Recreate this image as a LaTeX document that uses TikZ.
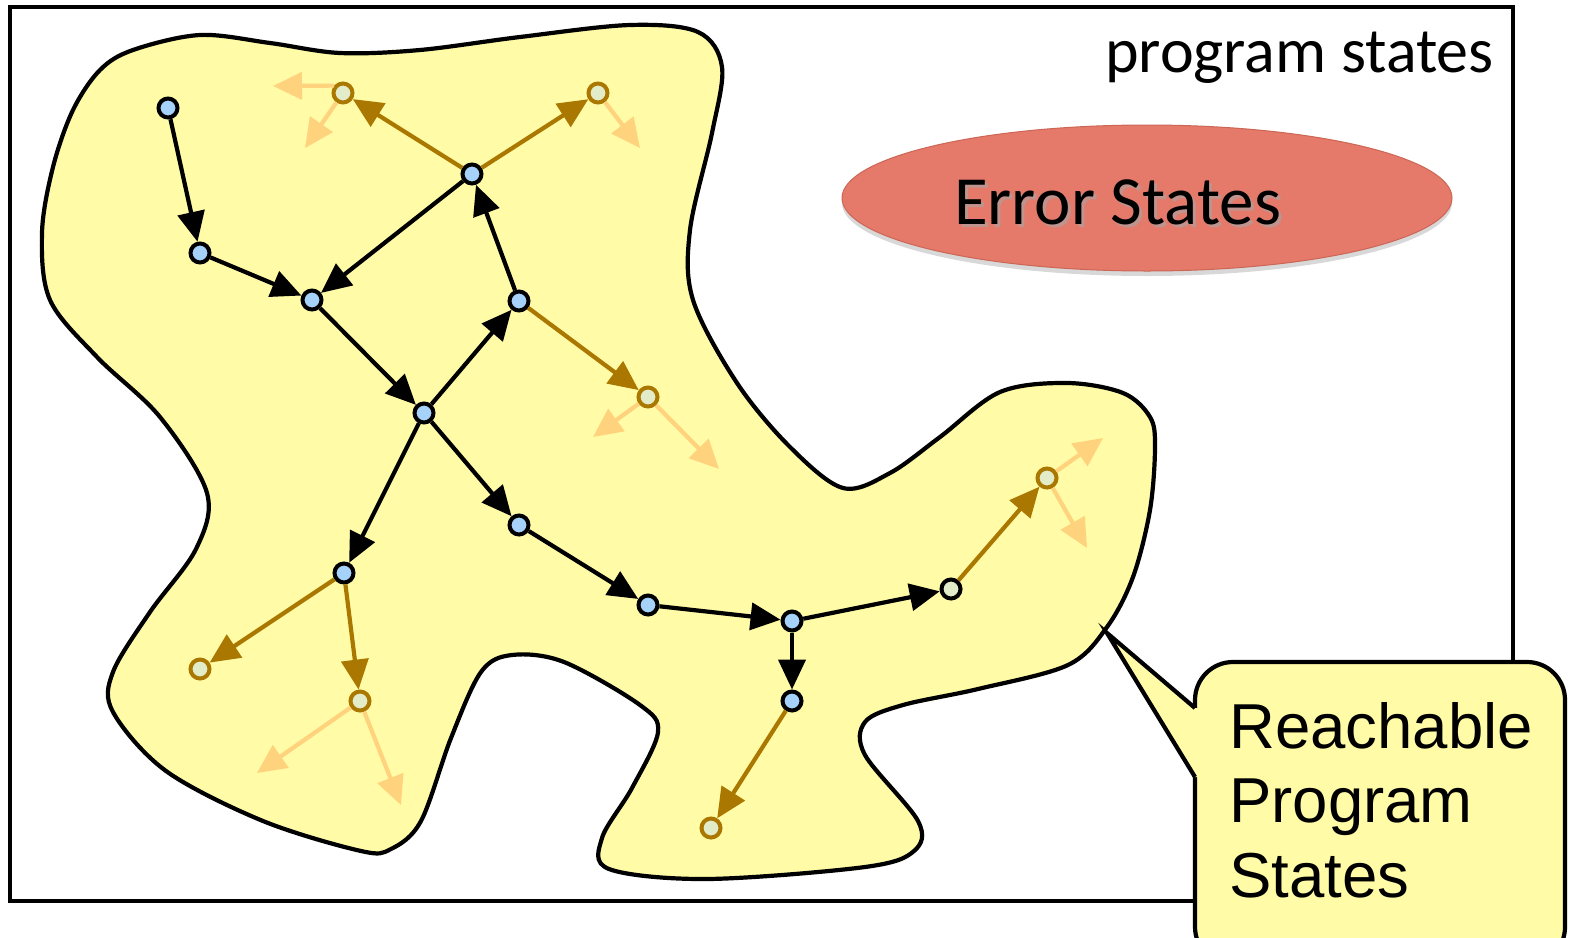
\documentclass[tikz,border=0pt]{standalone}
\usepackage{fontspec}
\setmainfont{Liberation Sans}
\newfontfamily\calfont{Carlito}
\usetikzlibrary{arrows.meta,shadows,shapes.geometric}
\definecolor{blobc}{RGB}{255,251,166}
\definecolor{nodeblue}{RGB}{166,210,250}
\definecolor{brownc}{RGB}{170,120,0}
\definecolor{lightor}{RGB}{255,210,125}
\definecolor{nodegreen}{RGB}{226,236,200}
\definecolor{errc}{RGB}{229,121,106}
\definecolor{errd}{RGB}{204,102,85}
\tikzset{
  bnode/.style={circle, draw=black, fill=nodeblue, line width=4pt, minimum size=19pt, inner sep=0pt},
  onode/.style={circle, draw=brownc, fill=nodegreen, line width=4pt, minimum size=19pt, inner sep=0pt},
  gnode/.style={circle, draw=black, fill=nodegreen, line width=4pt, minimum size=19pt, inner sep=0pt},
  blk/.style={draw=black, line width=4.2pt, -{Triangle[length=30pt,width=27pt]}},
  brn/.style={draw=brownc, line width=4.2pt, -{Triangle[length=30pt,width=27pt,fill=brownc]}},
  lgt/.style={draw=lightor, line width=4.2pt, -{Triangle[length=29pt,width=27pt,fill=lightor]}},
  outline/.style={draw=black, line width=4.2pt},
}
\begin{document}
\begin{tikzpicture}[x=1pt,y=-1pt]
\useasboundingbox (0,0) rectangle (1570,937);
\fill[white] (0,0) rectangle (1570,937);
% frame
\draw[outline] (10,7) rectangle (1513,901);
% blob
\draw[outline, fill=blobc] plot[smooth cycle, tension=0.55] coordinates {
(200,35) (270,43) (340,53) (420,50) (520,37) (630,25) (698,32) (722,67)
(712,133) (690,230) (693,300) (737,383) (790,447) (843,488) (890,473)
(940,437) (1000,392) (1067,383) (1123,393) (1150,417) (1155,447) (1150,510)
(1133,577) (1107,627) (1068,665) (978,689) (903,705) (865,722) (865,755)
(918,821) (914,851) (865,867) (707,879) (609,869) (602,838) (632,788)
(658,732) (640,705) (564,662) (512,655) (481,672) (451,738) (421,821)
(391,849) (361,851) (263,821) (166,771) (113,712) (113,672) (150,612)
(196,549) (207,493) (160,417) (97,357) (50,300) (42,233) (53,167)
(73,110) (100,70) (133,50)};
% error states
\node[ellipse, minimum width=610pt, minimum height=146pt, fill=errc, draw=errd, line width=1pt,
      drop shadow={opacity=0.3, shadow xshift=0pt, shadow yshift=-5pt}] (err) at (1147,198) {};
\node[anchor=base west, text=black!35, opacity=0.6, font=\calfont\fontsize{69}{72}\selectfont, inner sep=0pt] (errsh) at (957,227) {Error States};
\node[anchor=base west, font=\calfont\fontsize{69}{72}\selectfont, inner sep=0pt] (errt) at (954,224) {Error States};
\node[anchor=base east, font=\calfont\fontsize{64}{70}\selectfont, inner sep=0pt] (ps) at (1494,72) {program states};
% nodes
\node[bnode] (n1) at (168,108) {};
\node[bnode] (n2) at (200,253) {};
\node[bnode] (n3) at (312,300) {};
\node[bnode] (n4) at (472,174) {};
\node[bnode] (n5) at (519,301) {};
\node[bnode] (n6) at (424,413) {};
\node[bnode] (n7) at (519,525) {};
\node[bnode] (n8) at (344,573) {};
\node[bnode] (n9) at (648,605) {};
\node[bnode] (n10) at (792,621) {};
\node[bnode] (n11) at (792,701) {};
\node[gnode] (n12) at (951,589) {};
\node[onode] (b1) at (343,93) {};
\node[onode] (b2) at (598,93) {};
\node[onode] (b3) at (648,397) {};
\node[onode] (b4) at (200,669) {};
\node[onode] (b5) at (360,701) {};
\node[onode] (b6) at (711,828) {};
\node[onode] (b7) at (1047,478) {};
% free ends
\coordinate (e1) at (273,86);
\coordinate (e2) at (305,148);
\coordinate (e3) at (640,148);
\coordinate (e4) at (593,437);
\coordinate (e5) at (719,469);
\coordinate (e6) at (257,773);
\coordinate (e7) at (401,805);
\coordinate (e8) at (1103,438);
\coordinate (e9) at (1087,548);
% light arrows
\draw[lgt] (b1.140) -- (e1);
\draw[lgt] (b1) -- (e2);
\draw[lgt] (b2) -- (e3);
\draw[lgt] (b3) -- (e4);
\draw[lgt] (b3) -- (e5);
\draw[lgt] (b5) -- (e6);
\draw[lgt] (b5) -- (e7);
\draw[lgt] (b7) -- (e8);
\draw[lgt] (b7) -- (e9);
% brown arrows
\draw[brn] (n4) -- (b1);
\draw[brn] (n4) -- (b2);
\draw[brn] (n5) -- (b3);
\draw[brn] (n8) -- (b4);
\draw[brn] (n8) -- (b5);
\draw[brn] (n11) -- (b6);
\draw[brn] (n12) -- (b7);
% black arrows
\draw[blk] (n1) -- (n2);
\draw[blk] (n2) -- (n3);
\draw[blk] (n4) -- (n3);
\draw[blk] (n3) -- (n6);
\draw[blk] (n6) -- (n5);
\draw[blk] (n5) -- (n4);
\draw[blk] (n6) -- (n8);
\draw[blk] (n6) -- (n7);
\draw[blk] (n7) -- (n9);
\draw[blk] (n9) -- (n10);
\draw[blk] (n10) -- (n12);
\draw[blk] (n10) -- (n11);
% callout
\draw[outline, fill=blobc, rounded corners=38pt] (1195,662) rectangle (1565,965);
\coordinate (tip) at (1107,633);
\coordinate (ca) at (1195,708);
\coordinate (cb) at (1195,777);
\fill[blobc] (tip) -- (ca) -- (1199,708) -- (1199,777) -- (cb) -- cycle;
\draw[outline, line join=miter] (ca) -- (tip) -- (cb);
\node[anchor=base west, font=\fontsize{63.5}{75}\selectfont, inner sep=0pt] (c1) at (1229,748) {Reachable};
\node[anchor=base west, font=\fontsize{63.5}{75}\selectfont, inner sep=0pt] (c2) at (1229,822) {Program};
\node[anchor=base west, font=\fontsize{63.5}{75}\selectfont, inner sep=0pt] (c3) at (1229,897) {States};
\end{tikzpicture}
\end{document}
